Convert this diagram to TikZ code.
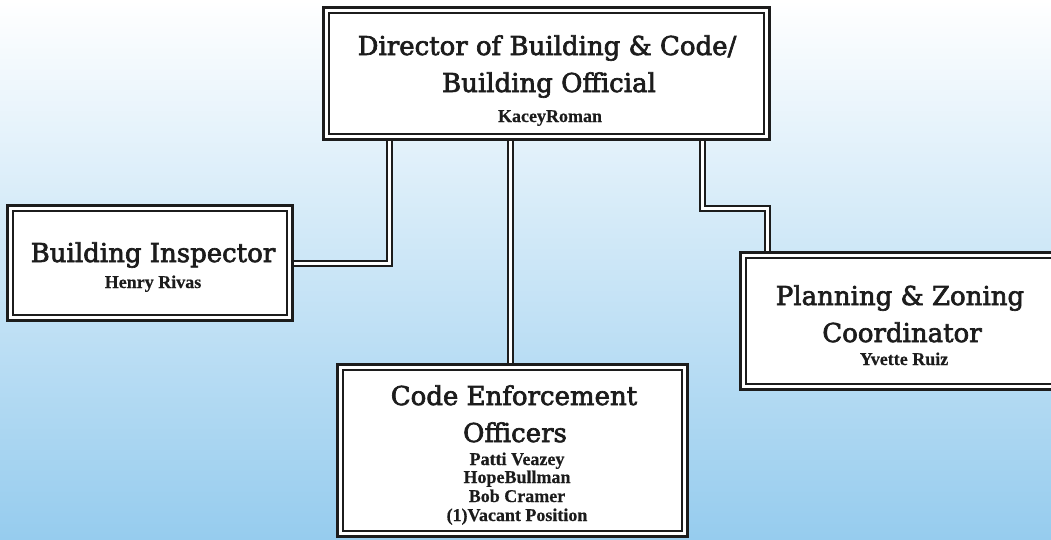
\documentclass[tikz,border=0pt]{standalone}
\usepackage{fontspec}
\setmainfont{DejaVu Serif}
\newfontfamily\titlefont[FakeBold=2.5]{DejaVu Serif}
\newfontfamily\namefont[FakeBold=0.5]{Liberation Serif Bold}
\pgfdeclarelayer{bglayer}
\pgfdeclarelayer{connlayer}
\pgfsetlayers{bglayer,connlayer,main}
\definecolor{skyA}{RGB}{218,238,249}
\definecolor{skyB}{RGB}{150,204,238}
\definecolor{ink}{RGB}{28,28,28}
\begin{document}
\begin{tikzpicture}[x=1pt,y=-1pt,
  box/.style={draw=ink, line width=1.8pt, double=white, double distance=3.5pt, fill=white, rectangle, inner sep=0pt, outer sep=0pt,
    preaction={draw=ink, line width=8.6pt}},
  conn/.style={draw=ink, line width=2pt, double=white, double distance=3pt},
  title/.style={font=\titlefont\fontsize{26}{30}\selectfont, anchor=base, inner sep=0pt, text=ink},
  who/.style={font=\namefont\fontsize{18}{20}\selectfont, anchor=base, inner sep=0pt, text=ink}]
\useasboundingbox (0,0) rectangle (1051,539);
\begin{pgfonlayer}{bglayer}
\shade[top color=white, middle color=skyA, bottom color=skyB] (0,0) rectangle (1051,539);
\end{pgfonlayer}
% boxes
\node[box, minimum width=440pt, minimum height=126pt] (dir) at (546.5,73.5) {};
\node[box, minimum width=279pt, minimum height=109pt] (bi) at (150,263) {};
\node[box, minimum width=313pt, minimum height=131pt] (plan) at (900,321) {};
\node[box, minimum width=344pt, minimum height=166pt] (code) at (512.5,450.5) {};
% texts
\node[title] (dirT1) at (547,55) {Director of Building \& Code/};
\node[title] (dirT2) at (549,92) {Building Official};
\node[who] (dirN) at (550,122) {KaceyRoman};
\node[title] (biT) at (153,262) {Building Inspector};
\node[who] (biN) at (153,288) {Henry Rivas};
\node[title] (planT1) at (900,305) {Planning \& Zoning};
\node[title] (planT2) at (902,342) {Coordinator};
\node[who] (planN) at (904,365) {Yvette Ruiz};
\node[title] (codeT1) at (514,405) {Code Enforcement};
\node[title] (codeT2) at (515,442) {Officers};
\node[who] (codeN1) at (517,465) {Patti Veazey};
\node[who] (codeN2) at (517,483) {HopeBullman};
\node[who] (codeN3) at (517,502) {Bob Cramer};
\node[who] (codeN4) at (517,521) {(1)Vacant Position};
% connectors
\coordinate (lx) at (389,0);
\coordinate (mx) at (510,0);
\coordinate (r1) at (702,208);
\coordinate (r2) at (767,208);
\begin{pgfonlayer}{connlayer}
\draw[conn] (bi.east) -| (lx |- dir.south);
\draw[conn] (mx |- dir.south) -- (mx |- code.north);
\draw[conn] (r1 |- dir.south) -- (r1) -- (r2) -- (r2 |- plan.north);
\end{pgfonlayer}
\end{tikzpicture}
\end{document}
